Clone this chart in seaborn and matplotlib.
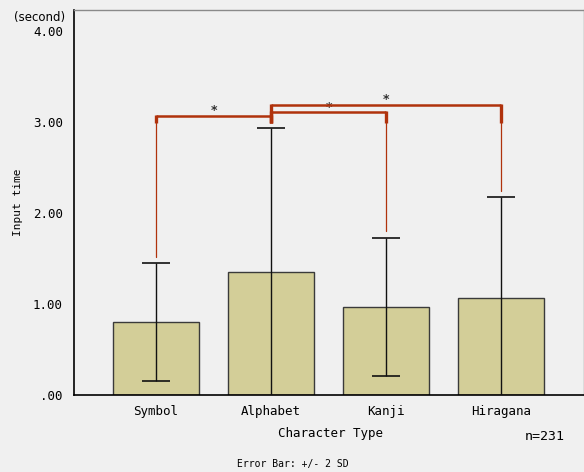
import numpy as np
import pandas as pd
import matplotlib
matplotlib.use("Agg")
import matplotlib.pyplot as plt
import seaborn as sns

# data
categories = ["Symbol", "Alphabet", "Kanji", "Hiragana"]
means = [0.80, 1.35, 0.97, 1.07]
two_sd = [0.65, 1.58, 0.76, 1.10]
y_ticks = [0, 1, 2, 3, 4]
y_tick_labels = [".00", "1.00", "2.00", "3.00", "4.00"]
# significance brackets: pairs of category indices and bracket heights
bracket_pairs = [(0, 1), (1, 2), (1, 3)]
bracket_heights = [3.07, 3.11, 3.19]
sample_size = 231

bar_color = "#d3ce98"
sig_color = "#b0320c"
bg = "#f0f0f0"
mono = "DejaVu Sans Mono"

sns.set_style("white")
plt.rcParams["text.color"] = "black"
plt.rcParams["xtick.color"] = "black"
plt.rcParams["ytick.color"] = "black"
fig = plt.figure(figsize=(5.84, 4.72), dpi=100)
ax = fig.add_axes([74 / 584, 1 - 395 / 472, 510 / 584, 385 / 472])
ax.set_facecolor(bg)
fig.patch.set_facecolor(bg)

df = pd.DataFrame({"type": categories, "time": means})
sns.barplot(data=df, x="type", y="time", color=bar_color, width=0.75,
            edgecolor="#3a3a3a", linewidth=1.0, saturation=1, ax=ax, zorder=2)
xs = np.arange(len(categories))
ax.errorbar(xs, means, yerr=two_sd, fmt="none", ecolor="#111111",
            elinewidth=1.0, capsize=10.3, capthick=1.2, zorder=3)

# brackets
tops = np.array(means) + np.array(two_sd)
stub_bottom = 2.99
for (i, j), h in zip(bracket_pairs, bracket_heights):
    ax.plot([i, j], [h, h], color=sig_color, lw=1.8, solid_capstyle="butt", zorder=4)
    for k in (i, j):
        ax.plot([k, k], [h + 0.01, stub_bottom], color=sig_color, lw=2.4,
                solid_capstyle="butt", zorder=4)
        if tops[k] + 0.07 < stub_bottom:
            ax.plot([k, k], [stub_bottom, tops[k] + 0.07], color=sig_color,
                    lw=0.9, zorder=4)
    ax.text((i + j) / 2, h - 0.02, "*", ha="center", va="bottom",
            fontsize=9, color="#303030", fontweight="bold", zorder=3)

ax.set_xlim(-0.713, 3.72)
ax.set_ylim(0, 4.23)
ax.set_yticks(y_ticks)
ax.set_yticklabels(y_tick_labels, family=mono, fontsize=9)
ax.set_xticks(xs)
ax.set_xticklabels(categories, family=mono, fontsize=9)
ax.tick_params(axis="y", direction="out", length=7, width=1.5, pad=1, color="black",
               labelcolor="black")
ax.tick_params(axis="x", direction="out", length=4, width=1.5, pad=3, color="black",
               labelcolor="black")
ax.set_xlabel("")
ax.set_ylabel("")

for s in ["left", "bottom"]:
    ax.spines[s].set_color("black")
    ax.spines[s].set_linewidth(1.2)
for s in ["top", "right"]:
    ax.spines[s].set_color("#8a8a8a")
    ax.spines[s].set_linewidth(1.0)

fig.text(18 / 584, 1 - 202 / 472, "Input time", rotation=90, ha="center",
         va="center", family=mono, fontsize=8)
fig.text(40 / 584, 1 - 17 / 472, "(second)", ha="center", va="center",
         family="DejaVu Sans", fontsize=8.5)
fig.text(330 / 584, 1 - 434 / 472, "Character Type", ha="center", va="center",
         family=mono, fontsize=9)
fig.text(545 / 584, 1 - 437 / 472, f"n={sample_size}", ha="center", va="center",
         family=mono, fontsize=9.5)
fig.text(293 / 584, 1 - 464 / 472, "Error Bar: +/- 2 SD", ha="center",
         va="center", family=mono, fontsize=7)

fig.savefig("out.png", dpi=100, facecolor=bg)
